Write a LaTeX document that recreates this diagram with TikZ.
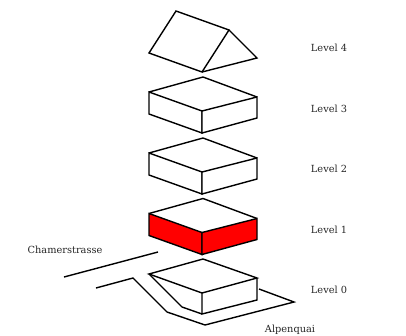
\documentclass[tikz,border=0pt]{standalone}
\usepackage{fontspec}
\setmainfont{DejaVu Serif}
\usepackage{tikz}
\tikzset{
	outline/.style={draw,line width=1.4pt,line join=miter},
	level label/.style={font=\fontsize{9.8}{11}\selectfont,text=black!85}
}

\begin{document}
\begin{tikzpicture}[x=1pt,y=-1pt]
            \useasboundingbox (0,0) rectangle (406,335);
            % roof
            \draw [outline] (149,53) -- (176,11) -- (229,30) -- (202,72) -- cycle;
            \draw [outline] (229,30) -- (257,58) -- (202,72);
            % floors
            \foreach \y/\wall in {0/white,61/white,121.5/red}{
              \filldraw [outline,fill=\wall] (149,92+\y) -- (202,111+\y) -- (202,133+\y) -- (149,114+\y) -- cycle;
              \filldraw [outline,fill=\wall] (202,111+\y) -- (257,97+\y) -- (257,118+\y) -- (202,133+\y) -- cycle;
              \draw [outline] (149,92+\y) -- (203,77+\y) -- (257,97+\y);
            }
            % ground floor
            \draw [outline] (149,274) -- (203,259) -- (257,278) -- (202,293) -- cycle;
            \draw [outline] (202,293) -- (202,314) -- (257,300) -- (257,278);
            \draw [outline] (149,274) -- (182,307) -- (202,314);
            % streets
            \draw [outline] (64,277) -- (158,252);
            \draw [outline] (96,288) -- (133,278) -- (167,312) -- (205,325) -- (294,302) -- (259,289);
            % labels
            \node [level label] (level4) at (329,47.5) {Level 4};
            \node [level label] (level3) at (329,108.5) {Level 3};
            \node [level label] (level2) at (329,168.5) {Level 2};
            \node [level label] (level1) at (329,229.5) {Level 1};
            \node [level label] (level0) at (329,289.5) {Level 0};
            \node [level label] (chamer) at (65,249.5) {Chamerstrasse};
            \node [level label] (alpen) at (290,329.5) {Alpenquai};
          \end{tikzpicture}
\end{document}
